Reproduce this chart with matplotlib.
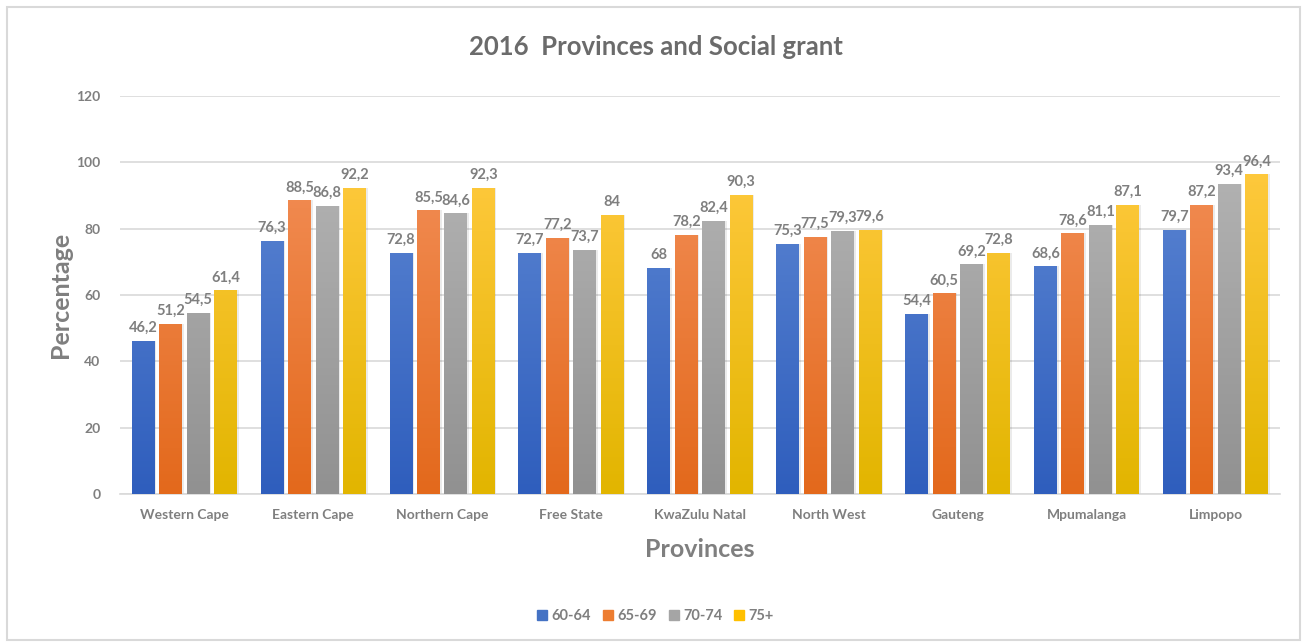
import numpy as np
import matplotlib
matplotlib.use("Agg")
import matplotlib.pyplot as plt
from matplotlib.colors import LinearSegmentedColormap
from matplotlib.patches import Rectangle

plt.rcParams['font.family'] = ['Lato', 'DejaVu Sans']

provinces = ["Western Cape", "Eastern Cape", "Northern Cape", "Free State",
             "KwaZulu Natal", "North West", "Gauteng", "Mpumalanga", "Limpopo"]
age_groups = ["60-64", "65-69", "70-74", "75+"]
v_60_64 = [46.2, 76.3, 72.8, 72.7, 68.0, 75.3, 54.4, 68.6, 79.7]
v_65_69 = [51.2, 88.5, 85.5, 77.2, 78.2, 77.5, 60.5, 78.6, 87.2]
v_70_74 = [54.5, 86.8, 84.6, 73.7, 82.4, 79.3, 69.2, 81.1, 93.4]
v_75_plus = [61.4, 92.2, 92.3, 84.0, 90.3, 79.6, 72.8, 87.1, 96.4]
series = [v_60_64, v_65_69, v_70_74, v_75_plus]

# top / bottom colours for each bar gradient
grad = [("#5b85d2", "#2f5ebd"),
        ("#f28d55", "#e3691c"),
        ("#b3b3b3", "#919191"),
        ("#ffc93e", "#e2b500")]
legend_cols = ["#4472c4", "#ed7d31", "#a5a5a5", "#ffc000"]

txt = "#7f7f7f"

fig = plt.figure(figsize=(13.11, 6.44), dpi=100)
fig.patches.append(Rectangle((7 / 1311, 4 / 644), 1293 / 1311, 633 / 644,
                             transform=fig.transFigure, fill=False,
                             edgecolor="#d9d9d9", linewidth=1.5))
ax = fig.add_axes([120 / 1311, 1 - 494 / 644, 1160 / 1311, 398 / 644])

x = np.arange(len(provinces))
step = 0.213
width = 0.178
for j, vals in enumerate(series):
    pos = x + (j - 1.5) * step
    # soft shadow
    ax.bar(pos + 0.012, vals, width, color="#000000", alpha=0.08, zorder=2)
    bars = ax.bar(pos, vals, width, color=legend_cols[j], zorder=3,
                  label=age_groups[j])
    cmap = LinearSegmentedColormap.from_list("g%d" % j, [grad[j][1], grad[j][0]])
    for b, v in zip(bars, vals):
        x0 = b.get_x()
        im = ax.imshow(np.linspace(0, 1, 100).reshape(-1, 1), cmap=cmap,
                       extent=(x0, x0 + width, 0, 100), origin="lower",
                       aspect="auto", zorder=3.5)
        im.set_clip_path(b)
        label = f"{v:g}".replace(".", ",")
        ax.text(b.get_x() + width / 2, v + 1.8, label, ha="center", va="bottom",
                fontsize=10.5, fontweight="bold", color=txt, zorder=5)

ax.set_xlim(-0.5, len(provinces) - 0.5)
ax.set_ylim(0, 120)
ax.set_yticks(range(0, 121, 20))
ax.set_xticks(x)
ax.set_xticklabels(provinces)
ax.grid(axis="y", color="#d9d9d9", linewidth=1.2, zorder=0)
ax.set_axisbelow(True)
for s in ["top", "right", "left"]:
    ax.spines[s].set_visible(False)
ax.spines["bottom"].set_color("#d9d9d9")
ax.spines["bottom"].set_linewidth(1.2)
ax.tick_params(axis="both", length=0, colors=txt, labelsize=10)
ax.tick_params(axis="y", pad=14)
ax.tick_params(axis="x", pad=11)
for t in ax.get_yticklabels() + ax.get_xticklabels():
    t.set_fontweight("bold")

ax.set_ylabel("Percentage", fontsize=18, fontweight="bold", color="#7f7f7f",
              labelpad=3)
ax.set_xlabel("Provinces", fontsize=18, fontweight="bold", color="#7f7f7f",
              labelpad=12)
fig.text(0.5, 1 - 47 / 644, "2016  Provinces and Social grant", ha="center",
         va="center", fontsize=18.5, fontweight="bold", color="#6b6b6b")

handles = [Rectangle((0, 0), 1, 1, color=c) for c in legend_cols]
leg = fig.legend(handles, age_groups, loc="center", ncol=4,
                 bbox_to_anchor=(0.5, 1 - 616 / 644), frameon=False,
                 handlelength=0.7, handleheight=0.7, handletextpad=0.3,
                 columnspacing=0.8, prop={"size": 10.5, "weight": "bold"})
for t in leg.get_texts():
    t.set_color(txt)

fig.savefig("out.png", dpi=100)
